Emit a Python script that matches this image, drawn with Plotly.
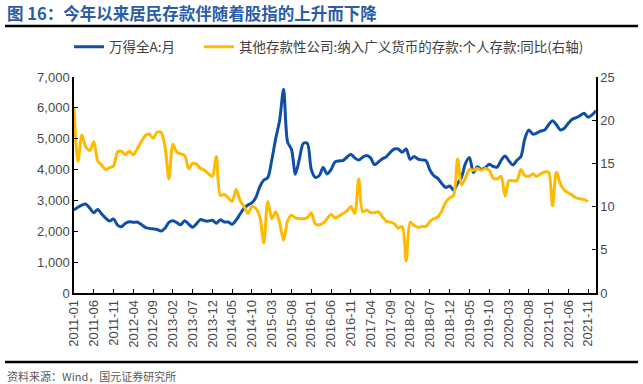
import plotly.graph_objects as go

# ---- data ----
months = [f"{y}-{m:02d}" for y in range(2011, 2023) for m in range(1, 13)][:133]  # 2011-01 .. 2022-01

wind_a = [2690, 2780, 2850, 2880, 2750, 2600, 2710, 2560, 2430, 2330,
          2400, 2200, 2150, 2260, 2310, 2290, 2300, 2220, 2130, 2095,
          2080, 2060, 2010, 2100, 2290, 2345, 2280, 2210, 2345, 2230,
          2130, 2250, 2380, 2340, 2330, 2360, 2260, 2370, 2300, 2300,
          2225, 2360, 2560, 2750, 2850, 2925, 3100, 3450, 3660, 3740,
          4300, 5000, 5600, 6600, 4900, 4650, 3850, 4350, 4850, 4850,
          4000, 3750, 3800, 4070, 3860, 4000, 4250, 4280, 4290, 4400,
          4500, 4380, 4310, 4400, 4460, 4380, 4160, 4250, 4350, 4420,
          4560, 4666, 4666, 4560, 4666, 4330, 4420, 4340, 4310, 4290,
          3986, 3800, 3715, 3550, 3420, 3470, 3340, 3550, 3750, 4200,
          4390, 3900, 4090, 4000, 4060, 4170, 4100, 4080, 4300, 4440,
          4280, 4150, 4300, 4420, 5000, 5283, 5150, 5180, 5250, 5280,
          5450, 5584, 5450, 5283, 5340, 5500, 5630, 5680, 5750, 5823,
          5694, 5770, 5910]

deposit_yoy = [21.4, 15.2, 18.3, 16.9, 16.5, 17.5, 15.3, 14.8, 14.3, 14.5,
               14.7, 16.3, 16.4, 16.0, 16.4, 16.0, 16.7, 17.5, 18.2, 18.4,
               17.9, 18.6, 18.6, 17.0, 13.2, 17.2, 16.3, 16.1, 15.9, 14.4,
               15.0, 14.9, 14.4, 14.2, 13.8, 13.5, 15.8, 11.3, 11.4, 11.0,
               10.6, 12.0, 10.7, 10.0, 9.2, 10.0, 9.8, 8.8, 5.8, 10.6,
               8.6, 9.4, 8.1, 6.1, 8.3, 9.0, 8.7, 8.6, 8.6, 8.7,
               9.3, 8.0, 7.9, 8.1, 8.6, 9.1, 8.7, 8.9, 9.2, 9.5,
               10.0, 9.2, 13.2, 9.4, 9.6, 9.3, 9.3, 9.4, 8.8, 8.3,
               8.2, 8.0, 7.5, 7.7, 3.7, 8.2, 7.8, 7.6, 7.7, 7.7,
               8.3, 8.6, 8.8, 9.5, 10.5, 11.0, 11.3, 15.5, 12.5, 13.3,
               14.3, 14.2, 14.4, 14.2, 14.4, 14.2, 13.3, 13.2, 13.5, 11.2,
               13.0, 13.0, 13.0, 14.3, 13.6, 13.5, 13.8, 13.5, 13.8, 14.0,
               14.0, 10.1, 14.0, 12.6, 11.9, 11.6, 11.3, 11.0, 10.9, 10.8,
               10.6]

tick_labels = months[0:131:5]

title_text = "图 16：今年以来居民存款伴随着股指的上升而下降"
source_text = "资料来源：Wind，国元证券研究所"
name_a = "万得全A:月"
name_b = "其他存款性公司:纳入广义货币的存款:个人存款:同比(右轴)"

BLUE = "#0F4FA8"
GOLD = "#FFBA00"
AXIS_FONT = dict(family="Arial, Liberation Sans, sans-serif", size=13, color="#4a4a4a")
CJK = "Noto Sans CJK SC"

fig = go.Figure()
fig.add_trace(go.Scatter(x=months[:len(wind_a)], y=wind_a, name=name_a, mode="lines",
                         legend="legend",
                         line=dict(color=BLUE, width=3, shape="spline", smoothing=0.8)))
fig.add_trace(go.Scatter(x=months[:len(deposit_yoy)], y=deposit_yoy, name=name_b, mode="lines",
                         yaxis="y2", legend="legend2",
                         line=dict(color=GOLD, width=3, shape="spline", smoothing=0.8)))

L, R, T, B = 74, 47, 77, 91
W, H = 643, 384
pw, ph = W - L - R, H - T - B


def px(x):
    return (x - L) / pw


def py(y):
    return (H - B - y) / ph


leg_common = dict(orientation="h", xanchor="left", y=py(47), yanchor="middle",
                  font=dict(family=CJK, size=13.5, color="#404040"),
                  itemwidth=30, bgcolor="rgba(0,0,0,0)")

fig.update_layout(
    width=W, height=H,
    margin=dict(l=L, r=R, t=T, b=B),
    paper_bgcolor="white", plot_bgcolor="white",
    showlegend=True,
    legend=dict(x=px(69), **leg_common),
    legend2=dict(x=px(199), **leg_common),
    xaxis=dict(type="category", categoryorder="array", categoryarray=months,
               range=[0, 132], tickmode="array", tickvals=tick_labels, ticktext=tick_labels,
               tickangle=-90, ticks="inside", ticklen=4, tickcolor="#000",
               showline=True, linecolor="#000", linewidth=1.5, showgrid=False,
               tickfont=AXIS_FONT, zeroline=False),
    yaxis=dict(range=[0, 7000], dtick=1000, tickformat=",", ticks="inside", ticklen=4,
               tickcolor="#000", showline=True, linecolor="#000", linewidth=1.5,
               showgrid=False, zeroline=False, tickfont=AXIS_FONT),
    yaxis2=dict(range=[0, 25], dtick=5, overlaying="y", side="right", ticks="inside",
                ticklen=4, tickcolor="#000", showline=True, linecolor="#000", linewidth=1.5,
                showgrid=False, zeroline=False, tickfont=AXIS_FONT),
    annotations=[
        dict(text=f"<b>{title_text}</b>", xref="paper", yref="paper", x=px(5), y=py(13),
             xanchor="left", yanchor="middle", showarrow=False,
             font=dict(family=CJK, size=16.5, color="#2A5CAA")),
        dict(text=source_text, xref="paper", yref="paper", x=px(5), y=py(376),
             xanchor="left", yanchor="middle", showarrow=False,
             font=dict(family=CJK, size=11, color="#595959")),
    ],
    shapes=[
        dict(type="line", xref="paper", yref="paper", x0=px(5), x1=px(638), y0=py(26), y1=py(26),
             line=dict(color="#000", width=2.5)),
        dict(type="line", xref="paper", yref="paper", x0=px(5), x1=px(638), y0=py(362), y1=py(362),
             line=dict(color="#000", width=2.5)),
    ],
)

fig.write_html("out.html", config={"displayModeBar": False},
               post_script="document.body.style.margin='0';document.body.style.padding='0';"
                           "document.documentElement.style.overflow='hidden';")
